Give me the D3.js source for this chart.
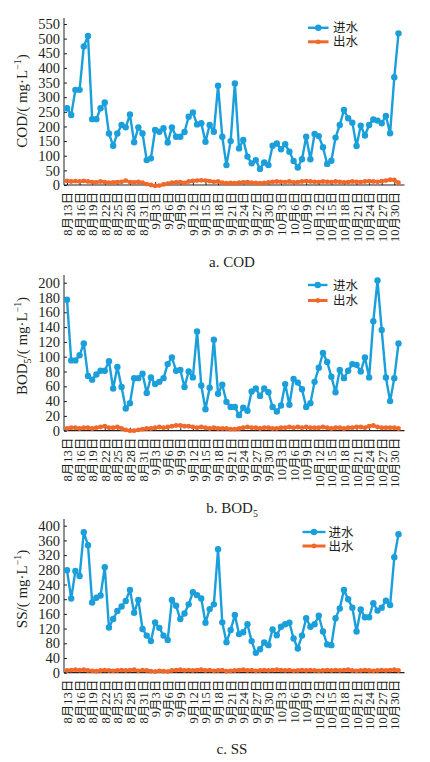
<!DOCTYPE html>
<html><head><meta charset="utf-8">
<script src="https://cdn.jsdelivr.net/npm/d3@7"></script>
<style>
html,body{margin:0;padding:0;background:#fff;}
svg{display:block;}
text{fill:#231f20;}
</style></head>
<body><div id="chart"></div>
<script>
// ---- data ----
const dateLabels = ["8月13日","8月16日","8月19日","8月22日","8月25日","8月28日","8月31日",
 "9月3日","9月6日","9月9日","9月12日","9月15日","9月18日","9月21日","9月24日","9月27日","9月30日",
 "10月3日","10月6日","10月9日","10月12日","10月15日","10月18日","10月21日","10月24日","10月27日","10月30日"];
const seriesNames = ["进水","出水"];
const codIn = [262,239,325,325,473,509,225,225,262,282,176,134,176,205,197,241,146,197,176,85,91,188,182,194,145,197,165,165,181,233,248,207,211,148,205,182,339,165,68,150,347,125,154,97,74,85,55,77,68,134,142,122,139,114,82,60,88,165,88,174,167,129,72,83,162,205,256,228,213,133,203,169,205,224,220,211,236,177,368,518];
const codOut = [14,12,13,12,14,12,10,9,12,10,8,9,10,11,15,10,9,11,8,3,0,-3,-2,2,5,8,9,10,7,12,14,15,16,15,13,11,12,8,6,7,6,8,9,10,8,7,6,7,9,11,12,11,10,12,9,10,12,13,12,11,10,12,11,10,12,11,9,10,12,11,10,12,13,12,11,13,15,18,17,8];
const bodIn = [177,95,95,102,118,74,69,76,81,81,94,57,86,59,30,37,71,71,77,51,72,63,66,71,90,99,81,82,59,80,72,134,61,29,58,123,50,62,39,32,32,21,31,27,53,57,47,57,52,32,26,34,63,35,70,65,56,32,37,66,85,105,93,73,52,82,71,81,90,89,80,99,72,148,203,136,72,40,71,118];
const bodOut = [3,4,4,3,4,4,3,4,5,6,4,4,5,3,1,0,0,1,2,3,3,4,5,4,5,6,7,7,6,6,5,4,5,4,3,4,3,3,3,2,2,3,4,5,4,4,3,4,4,3,3,4,4,5,4,5,4,5,4,4,4,5,4,3,4,4,3,4,4,5,5,4,6,7,5,4,4,4,4,3];
const ssIn = [279,202,277,263,382,347,191,204,210,287,123,146,168,180,195,225,163,198,119,101,86,137,122,101,89,198,182,146,161,186,219,211,202,136,173,186,336,137,83,116,157,105,110,132,86,54,64,82,75,118,102,125,132,136,93,66,101,148,125,132,155,112,77,75,148,175,225,200,177,112,172,151,151,189,169,177,196,184,314,377];
const ssOut = [6,7,8,7,8,6,5,4,6,7,6,5,6,7,6,7,8,5,7,6,4,3,5,4,3,6,7,8,6,7,6,7,8,6,7,5,6,7,4,5,6,7,8,6,7,5,6,7,6,7,8,7,6,7,5,6,7,6,7,6,5,6,7,6,7,6,7,8,6,5,6,7,6,5,6,7,6,7,8,6];
const codTicks = [0,50,100,150,200,250,300,350,400,450,500,550];
const bodTicks = [0,20,40,60,80,100,120,140,160,180,200];
const ssTicks = [0,40,80,120,160,200,240,280,320,360,400];

const W = 430, H = 762;
const blue = "#1a9fdb", orange = "#f0692a";
const serif = "'Liberation Serif','Times New Roman','Noto Sans CJK SC',serif";
const svg = d3.select("#chart").append("svg").attr("width", W).attr("height", H);
svg.append("rect").attr("width", W).attr("height", H).attr("fill", "#fff");

const x = d3.scaleLinear().domain([0, 79]).range([67, 398.5]);
const xAxisL = 64, xAxisR = 404.5;

const panels = [
  {inV: codIn, outV: codOut, ticks: codTicks, y0: 185, y1: 24, top: 18, max: 550,
   title: [["COD/( mg·L",""],["−1","sup"],[")",""]], tcy: 101,
   cap: [["a. COD",""]], capY: 267, legY: 27.8, legGap: 14, legX: 308, legLen: 20.5, legTx: 333},
  {inV: bodIn, outV: bodOut, ticks: bodTicks, y0: 430.7, y1: 282.7, top: 275, max: 200,
   title: [["BOD",""],["5","sub"],["/( mg·L",""],["−1","sup"],[")",""]], tcy: 346,
   cap: [["b. BOD",""],["5","sub"]], capY: 513, legY: 285, legGap: 15.5, legX: 308, legLen: 19.5, legTx: 333},
  {inV: ssIn, outV: ssOut, ticks: ssTicks, y0: 672.7, y1: 525.7, top: 519, max: 400,
   title: [["SS/( mg·L",""],["−1","sup"],[")",""]], tcy: 589,
   cap: [["c. SS",""]], capY: 754, legY: 532, legGap: 14, legX: 302.5, legLen: 23, legTx: 328.5}
];

function addRich(t, parts, size) {
  parts.forEach(([s, kind], i) => {
    const ts = t.append("tspan").text(s);
    const prev = i > 0 ? parts[i - 1][1] : "";
    if (kind === "sup") ts.attr("font-size", size * 0.65).attr("dy", -size * 0.38);
    else if (kind === "sub") ts.attr("font-size", size * 0.65).attr("dy", size * 0.25);
    else if (prev === "sup") ts.attr("dy", size * 0.38);
    else if (prev === "sub") ts.attr("dy", -size * 0.25);
  });
}

panels.forEach(p => {
  const y = d3.scaleLinear().domain([0, p.max]).range([p.y0, p.y1]);
  const g = svg.append("g");

  // y axis
  const ya = g.append("g").attr("transform", `translate(${xAxisL},0)`)
    .call(d3.axisLeft(y).tickValues(p.ticks).tickSize(-3).tickPadding(4).tickFormat(d3.format("d")));
  ya.select(".domain").remove();
  ya.selectAll("line").attr("stroke", "#231f20");
  ya.selectAll("text").attr("font-family", serif).attr("font-size", 14.5).attr("fill", "#231f20");
  g.append("line").attr("x1", xAxisL).attr("x2", xAxisL).attr("y1", p.y0).attr("y2", p.top)
    .attr("stroke", "#231f20").attr("stroke-width", 1);

  // x axis
  const tickIdx = dateLabels.map((d, i) => i * 3);
  const xa = g.append("g").attr("transform", `translate(0,${p.y0})`)
    .call(d3.axisBottom(x).tickValues(tickIdx).tickSize(-3).tickFormat((d, i) => dateLabels[i]));
  xa.select(".domain").remove();
  xa.selectAll("line").attr("stroke", "#231f20");
  xa.selectAll("text").attr("font-family", serif).attr("font-size", 12.5).attr("fill", "#231f20")
    .attr("text-anchor", "end").attr("transform", "rotate(-90)")
    .attr("x", -7).attr("y", 0).attr("dy", "0.36em");
  g.append("line").attr("x1", xAxisL).attr("x2", xAxisR).attr("y1", p.y0).attr("y2", p.y0)
    .attr("stroke", "#231f20").attr("stroke-width", 1.2);

  // series
  const line = d3.line().x((d, i) => x(i)).y(d => y(d));
  const ser = [{v: p.outV, c: orange, w: 3, r: 2.4}, {v: p.inV, c: blue, w: 2.4, r: 3.2}];
  ser.forEach(s => {
    g.append("path").datum(s.v).attr("d", line).attr("fill", "none")
      .attr("stroke", s.c).attr("stroke-width", s.w).attr("stroke-linejoin", "round");
    g.append("g").selectAll("circle").data(s.v).join("circle")
      .attr("cx", (d, i) => x(i)).attr("cy", d => y(d)).attr("r", s.r).attr("fill", s.c);
  });

  // y title
  const t = g.append("text").attr("transform", `translate(27,${p.tcy}) rotate(-90)`)
    .attr("text-anchor", "middle").attr("font-family", serif).attr("font-size", 15);
  addRich(t, p.title, 15);

  // caption
  const c = g.append("text").attr("x", 232).attr("y", p.capY).attr("text-anchor", "middle")
    .attr("font-family", serif).attr("font-size", 15);
  addRich(c, p.cap, 15);

  // legend
  [blue, orange].forEach((col, k) => {
    const ly = p.legY + k * p.legGap;
    g.append("line").attr("x1", p.legX).attr("x2", p.legX + p.legLen).attr("y1", ly).attr("y2", ly)
      .attr("stroke", col).attr("stroke-width", k ? 3 : 2.4);
    g.append("circle").attr("cx", p.legX + p.legLen / 2).attr("cy", ly).attr("r", k ? 2.4 : 3.2).attr("fill", col);
    g.append("text").attr("x", p.legTx).attr("y", ly + 4.6)
      .attr("font-family", serif).attr("font-size", 12.5).text(seriesNames[k]);
  });
});
</script></body></html>
